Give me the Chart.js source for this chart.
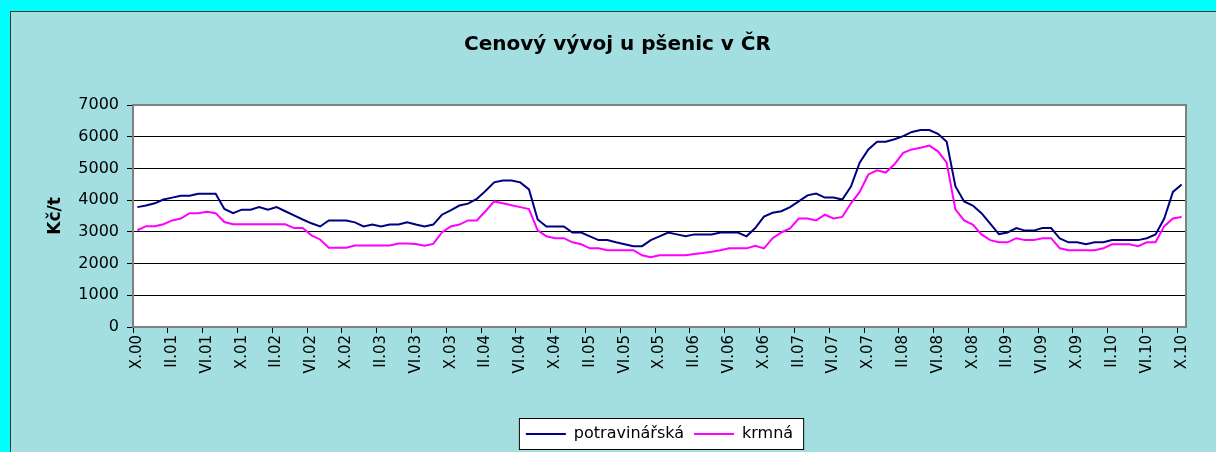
<!DOCTYPE html>
<html>
<head>
<meta charset="utf-8">
<script src="https://cdn.jsdelivr.net/npm/chart.js@4.4.1/dist/chart.umd.min.js"></script>
<style>
  html, body { margin: 0; padding: 0; overflow: hidden; background: #00ffff; }
  #frame {
    position: absolute; left: 10px; top: 11px;
    width: 1213px; height: 440px;
    background: #a3dfe0;
    border-top: 1px solid #333; border-left: 1px solid #333;
  }
</style>
</head>
<body>
<div id="frame"><canvas id="wheatChart" width="1213" height="440"></canvas></div>
<script>
// Tick labels every 4 months, X.00 .. X.10
const tickLabels = [
  "X.00", "II.01", "VI.01", "X.01", "II.02", "VI.02", "X.02", "II.03", "VI.03", "X.03",
  "II.04", "VI.04", "X.04", "II.05", "VI.05", "X.05", "II.06", "VI.06", "X.06", "II.07",
  "VI.07", "X.07", "II.08", "VI.08", "X.08", "II.09", "VI.09", "X.09", "II.10", "VI.10", "X.10",
];

// potravinářská pšenice (Kč/t), monthly
const potravinarska = [
  3780, 3830, 3900, 4020, 4080, 4140, 4140, 4200, 4200, 4200,
  3720, 3590, 3700, 3700, 3780, 3700, 3780, 3650, 3520, 3390,
  3270, 3170, 3360, 3360, 3360, 3300, 3170, 3230, 3170, 3230,
  3230, 3300, 3230, 3170, 3230, 3540, 3680, 3830, 3890, 4040,
  4290, 4560, 4620, 4620, 4560, 4340, 3390, 3170, 3170, 3170,
  2980, 2980, 2860, 2740, 2740, 2670, 2610, 2550, 2550, 2740,
  2860, 2980, 2920, 2860, 2920, 2920, 2920, 2980, 2980, 2980,
  2860, 3120, 3480, 3600, 3650, 3780, 3960, 4150, 4210, 4080,
  4080, 4020, 4430, 5180, 5600, 5840, 5840, 5920, 6020, 6150,
  6210, 6210, 6090, 5840, 4440, 3960, 3830, 3590, 3260, 2930,
  2980, 3120, 3040, 3040, 3120, 3120, 2790, 2670, 2670, 2610,
  2670, 2670, 2740, 2740, 2740, 2740, 2800, 2920, 3420, 4260,
  4490,
];

// krmná pšenice (Kč/t), monthly
const krmna = [
  3050, 3180, 3180, 3240, 3360, 3420, 3590, 3590, 3630, 3590,
  3310, 3240, 3240, 3240, 3240, 3240, 3240, 3240, 3120, 3120,
  2890, 2760, 2500, 2500, 2500, 2570, 2570, 2570, 2570, 2570,
  2630, 2630, 2620, 2560, 2620, 2980, 3170, 3230, 3360, 3360,
  3650, 3960, 3900, 3840, 3780, 3720, 3050, 2860, 2800, 2800,
  2670, 2610, 2480, 2480, 2420, 2420, 2420, 2420, 2260, 2200,
  2260, 2260, 2260, 2260, 2300, 2330, 2370, 2420, 2480, 2480,
  2480, 2560, 2480, 2800, 2980, 3110, 3420, 3420, 3360, 3540,
  3420, 3470, 3900, 4260, 4810, 4940, 4870, 5130, 5490, 5600,
  5650, 5720, 5540, 5180, 3710, 3360, 3230, 2920, 2740, 2670,
  2670, 2800, 2740, 2740, 2800, 2800, 2480, 2420, 2420, 2420,
  2420, 2480, 2610, 2610, 2610, 2550, 2670, 2670, 3180, 3420,
  3470,
];

// one category per month, labelled every 4th month
const months = potravinarska.map((v, i) => (i % 4 === 0 ? tickLabels[i / 4] : ""));

const FONT = "'DejaVu Sans', sans-serif";

// white plot area, gray frame and white legend box
const plotFrame = {
  id: "plotFrame",
  beforeDraw(chart) {
    const { ctx, chartArea } = chart;
    ctx.save();
    ctx.fillStyle = "#ffffff";
    ctx.fillRect(chartArea.left, chartArea.top, chartArea.width, chartArea.height);
    const boxes = chart.legend && chart.legend.legendHitBoxes;
    if (boxes && boxes.length) {
      const first = boxes[0];
      const last = boxes[boxes.length - 1];
      const x0 = first.left - 7;
      const x1 = last.left + last.width + 10;
      const y0 = first.top - 8;
      const y1 = first.top + first.height + 7;
      ctx.fillStyle = "#ffffff";
      ctx.fillRect(x0, y0, x1 - x0, y1 - y0);
      ctx.strokeStyle = "#000000";
      ctx.lineWidth = 1;
      ctx.strokeRect(x0 + 0.5, y0 + 0.5, x1 - x0, y1 - y0);
    }
    ctx.restore();
  },
  afterDraw(chart) {
    const { ctx, chartArea } = chart;
    ctx.save();
    ctx.strokeStyle = "#808080";
    ctx.lineWidth = 2;
    ctx.beginPath();
    ctx.moveTo(chartArea.left, chartArea.top);
    ctx.lineTo(chartArea.right, chartArea.top);
    ctx.lineTo(chartArea.right, chartArea.bottom);
    ctx.stroke();
    ctx.restore();
  },
};

new Chart(document.getElementById("wheatChart"), {
  type: "line",
  data: {
    labels: months,
    datasets: [
      {
        label: "potravinářská",
        data: potravinarska,
        borderColor: "#000080",
        backgroundColor: "#000080",
        borderWidth: 2,
        tension: 0,
        pointRadius: 0,
        fill: false,
      },
      {
        label: "krmná",
        data: krmna,
        borderColor: "#ff00ff",
        backgroundColor: "#ff00ff",
        borderWidth: 2,
        tension: 0,
        pointRadius: 0,
        fill: false,
      },
    ],
  },
  options: {
    responsive: false,
    animation: false,
    layout: {
      padding: { left: 0, right: 0, top: 0, bottom: 0 },
    },
    plugins: {
      title: {
        display: true,
        text: "Cenový vývoj u pšenic v ČR",
        color: "#000",
        font: { family: FONT, size: 20, weight: "bold" },
        padding: { top: 21, bottom: 48 },
      },
      legend: {
        display: true,
        position: "bottom",
        fullSize: false,
        labels: {
          color: "#000",
          font: { family: FONT, size: 16 },
          usePointStyle: true,
          pointStyle: "line",
          pointStyleWidth: 40,
          padding: 10,
        },
      },
      tooltip: { enabled: false },
    },
    scales: {
      x: {
        offset: true,
        grid: {
          offset: true,
          drawOnChartArea: false,
          drawTicks: true,
          tickLength: 6,
          tickColor: (c) => (c.index % 4 === 0 ? "#000" : "rgba(0,0,0,0)"),
        },
        border: { display: true, color: "#808080", width: 2 },
        ticks: {
          autoSkip: false,
          minRotation: 90,
          maxRotation: 90,
          padding: 2,
          color: "#000",
          font: { family: FONT, size: 15 },
        },
        afterFit: (scale) => {
          scale.height = 89;
        },
      },
      y: {
        min: 0,
        max: 7000,
        grid: {
          color: (c) =>
            c.tick && (c.tick.value === 0 || c.tick.value === 7000) ? "rgba(0,0,0,0)" : "#000",
          tickColor: "#000",
          tickLength: 6,
          lineWidth: 1,
        },
        border: { display: true, color: "#808080", width: 2 },
        ticks: {
          stepSize: 1000,
          padding: 8,
          color: "#000",
          font: { family: FONT, size: 16 },
          callback: (v) => String(v),
        },
        title: {
          display: true,
          text: "Kč/t",
          color: "#000",
          font: { family: FONT, size: 17, weight: "bold" },
          padding: { top: 34, bottom: 0 },
        },
        afterFit: (scale) => {
          scale.width = 122;
        },
      },
      // empty right-hand spacer so the title centres on the whole chart
      yRight: {
        position: "right",
        display: true,
        grid: { display: false, drawOnChartArea: false },
        border: { display: false },
        ticks: { display: false },
        afterFit: (scale) => {
          scale.width = 38;
        },
      },
    },
  },
  plugins: [plotFrame],
});
</script>
</body>
</html>
